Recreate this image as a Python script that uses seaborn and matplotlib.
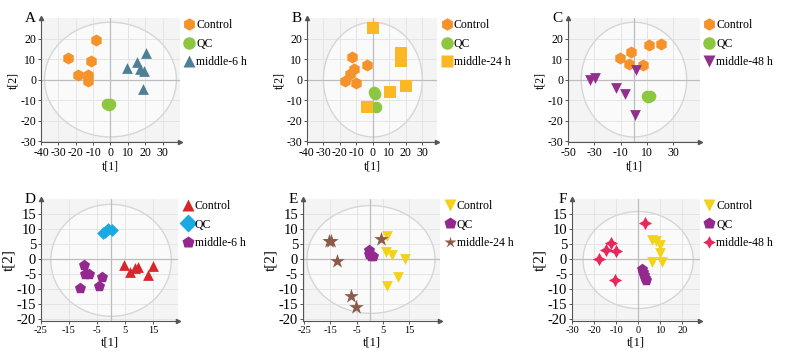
import pandas as pd
import matplotlib.pyplot as plt
import seaborn as sns
from matplotlib.patches import Ellipse
from matplotlib.lines import Line2D

# -----------------------------
# Score values (t[1], t[2])
# -----------------------------
A_control = [(-8.3, 19.2), (-24.2, 10.7), (-11.2, 9.1), (-18.8, 2.1), (-13.1, 2.0), (-13.1, -0.5)]
A_qc = [(-2.0, -11.8), (-1.0, -12.2), (0.0, -11.8)]
A_mid = [(20.6, 13.0), (15.2, 8.6), (9.6, 5.5), (16.9, 5.4), (19.2, 4.1), (18.8, -4.8)]

B_control = [(-12.6, 11.1), (-11.2, 5.4), (-3.5, 7.3), (-13.6, 2.5), (-16.7, -0.8), (-10.2, -1.9)]
B_qc = [(0.6, -6.1), (1.6, -7.0), (2.0, -13.3)]
B_mid = [(0.2, 25.2), (16.8, 13.0), (16.8, 9.0), (20.2, -3.2), (10.7, -6.0), (-3.5, -13.3)]

C_control = [(11.4, 16.8), (20.4, 17.4), (-1.9, 13.3), (-10.9, 10.3), (-4.0, 7.7), (7.0, 7.2)]
C_qc = [(10.0, -8.1), (11.0, -8.3), (12.0, -8.1)]
C_mid = [(1.2, 4.5), (-33.4, 0.0), (-29.3, 0.7), (-13.7, -4.0), (-7.0, -7.0), (0.7, -17.2)]

D_control = [(4.7, -2.1), (6.6, -4.4), (8.7, -2.9), (9.7, -2.7), (15.0, -2.3), (13.2, -5.5)]
D_qc = [(-2.2, 9.1), (-1.0, 9.9), (0.2, 9.6), (-2.9, 8.5)]
D_mid = [(-9.5, -1.9), (-9.2, -4.9), (-8.0, -5.2), (-3.4, -6.0), (-4.3, -9.2), (-11.1, -9.7)]

E_control = [(6.6, 7.6), (6.1, 2.4), (8.4, 1.2), (13.7, 0.1), (10.9, -6.0), (6.7, -9.2)]
E_qc = [(-0.3, 3.0), (-0.2, 1.5), (0.6, 0.8), (1.2, 0.8)]
E_mid = [(-15.5, 6.1), (-14.6, 6.1), (-12.4, -0.8), (4.5, 6.6), (-7.2, -12.4), (-5.3, -16.1)]

F_control = [(6.4, 6.3), (7.9, 6.1), (10.1, 4.6), (9.8, 1.8), (6.1, -1.2), (10.8, -1.2)]
F_qc = [(1.9, -3.5), (2.3, -4.5), (2.7, -5.5), (3.4, -7.1), (3.0, -6.5)]
F_mid = [(3.0, 11.9), (-12.5, 5.4), (-14.7, 2.9), (-10.0, 2.6), (-17.8, 0.1), (-10.3, -7.1)]

plt.rcParams['font.family'] = ['Liberation Serif', 'DejaVu Serif']
plt.rcParams['axes.unicode_minus'] = False

# marker sizes (scatter s) per marker shape
marker_size = {'h': 75, 'o': 70, '^': 60, 's': 65, 'v': 60, 'D': 42, 'p': 70, '*': 120, (4, 1, 0): 90}

# -----------------------------
# Panel settings
# -----------------------------
panels = [
    dict(label='A', data=[A_control, A_qc, A_mid], names=['Control', 'QC', 'middle-6 h'],
         markers=['h', 'o', '^'], colors=['#F5922A', '#8DC63F', '#4E7F96'],
         pos=[0.052, 0.601, 0.176, 0.348], xlim=(-40, 40), ylim=(-30.5, 30),
         xticks=range(-40, 31, 10), yticks=range(-30, 21, 10),
         ell=((0, 0), 76, 56)),
    dict(label='B', data=[B_control, B_qc, B_mid], names=['Control', 'QC', 'middle-24 h'],
         markers=['h', 'o', 's'], colors=['#F5922A', '#8DC63F', '#F9B824'],
         pos=[0.389, 0.601, 0.165, 0.348], xlim=(-40, 39), ylim=(-30.5, 30),
         xticks=range(-40, 31, 10), yticks=range(-30, 21, 10),
         ell=((0, 0), 60, 56)),
    dict(label='C', data=[C_control, C_qc, C_mid], names=['Control', 'QC', 'middle-48 h'],
         markers=['h', 'o', 'v'], colors=['#F5922A', '#8DC63F', '#912F8F'],
         pos=[0.720, 0.601, 0.167, 0.348], xlim=(-50, 50), ylim=(-30.5, 30),
         xticks=range(-50, 31, 20), yticks=range(-30, 21, 10),
         ell=((0, 0), 80, 56)),
    dict(label='D', data=[D_control, D_qc, D_mid], names=['Control', 'QC', 'middle-6 h'],
         markers=['^', 'D', 'p'], colors=['#D9262C', '#1BA9E1', '#93288F'],
         pos=[0.052, 0.098, 0.174, 0.343], xlim=(-25, 24), ylim=(-20.8, 20),
         xticks=range(-25, 16, 10), yticks=range(-20, 16, 5),
         ell=((0, -0.5), 43, 37.4)),
    dict(label='E', data=[E_control, E_qc, E_mid], names=['Control', 'QC', 'middle-24 h'],
         markers=['v', 'p', '*'], colors=['#F2D21B', '#93288F', '#8C5A48'],
         pos=[0.384, 0.098, 0.174, 0.343], xlim=(-25.5, 27), ylim=(-20.8, 20),
         xticks=range(-25, 16, 10), yticks=range(-20, 16, 5),
         ell=((0.5, -0.2), 49, 36)),
    dict(label='F', data=[F_control, F_qc, F_mid], names=['Control', 'QC', 'middle-48 h'],
         markers=['v', 'p', (4, 1, 0)], colors=['#F2D21B', '#93288F', '#E8285A'],
         pos=[0.725, 0.098, 0.162, 0.343], xlim=(-29.5, 28), ylim=(-20.8, 20),
         xticks=range(-30, 21, 10), yticks=range(-20, 16, 5),
         ell=((0, -0.4), 50, 32.4)),
]

fig = plt.figure(figsize=(7.89, 3.56), dpi=100)

for i, p in enumerate(panels):
    ax = fig.add_axes(p['pos'])
    bottom_row = i >= 3

    ax.set_facecolor('#f4f4f4')
    ax.set_xlim(*p['xlim'])
    ax.set_ylim(*p['ylim'])
    ax.set_xticks(list(p['xticks']))
    ax.set_yticks(list(p['yticks']))
    ax.grid(True, color='#e2e2e2', lw=0.6, zorder=0)
    ax.set_axisbelow(True)

    (cx, cy), w, h = p['ell']
    ax.add_patch(Ellipse((cx, cy), w, h, facecolor='white', alpha=0.55,
                         edgecolor='none', zorder=0.5))
    ax.add_patch(Ellipse((cx, cy), w, h, facecolor='none',
                         edgecolor='#d6d6d6', lw=1.0, zorder=1))
    ax.axhline(0, color='#bdbdbd', lw=0.9, zorder=1)
    ax.axvline(0, color='#bdbdbd', lw=0.9, zorder=1)

    # one seaborn call per group so each shape gets its own size
    for name, pts, m, c in zip(p['names'], p['data'], p['markers'], p['colors']):
        df = pd.DataFrame(pts, columns=['t1', 't2'])
        sns.scatterplot(data=df, x='t1', y='t2', marker=m, color=c,
                        s=marker_size[m], linewidth=0, ax=ax, zorder=3)

    for side in ['top', 'right']:
        ax.spines[side].set_visible(False)
    for side in ['left', 'bottom']:
        ax.spines[side].set_color('#555555')
        ax.spines[side].set_linewidth(0.8)
    ax.plot(1.0, 0, marker='>', color='#555555', ms=3, transform=ax.transAxes, clip_on=False)
    ax.plot(0, 1.0, marker='^', color='#555555', ms=3, transform=ax.transAxes, clip_on=False)

    ax.tick_params(axis='both', length=2.5, width=0.7, color='#555555', pad=1)
    if bottom_row:
        ax.tick_params(axis='y', labelsize=10.5)
        ax.tick_params(axis='x', labelsize=7.5)
        ax.set_ylabel('t[2]', fontsize=11, labelpad=1)
        ax.set_xlabel('t[1]', fontsize=9, labelpad=1)
    else:
        ax.tick_params(axis='both', labelsize=8.5)
        ax.set_ylabel('t[2]', fontsize=8.5, labelpad=1)
        ax.set_xlabel('t[1]', fontsize=8.5, labelpad=1)

    ax.text(-0.04, 1.0, p['label'], transform=ax.transAxes, ha='right',
            va='center', fontsize=11)

    handles = [Line2D([0], [0], marker=m, color='none', markerfacecolor=c,
                      markeredgecolor='none', markersize=9)
               for m, c in zip(p['markers'], p['colors'])]
    ax.legend(handles, p['names'], loc='upper left', bbox_to_anchor=(1.0, 1.03),
              frameon=False, fontsize=8.5, handlelength=0.8, handletextpad=0.2,
              labelspacing=0.55, borderaxespad=0)

fig.savefig('out.png', dpi=100)
